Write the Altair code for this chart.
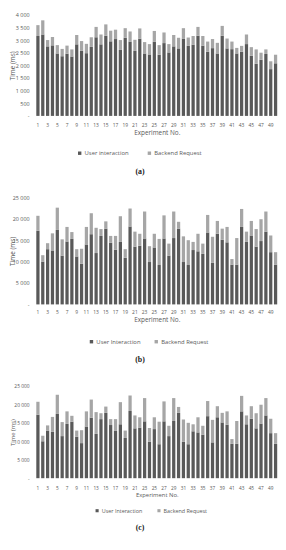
import altair as alt
import pandas as pd

experiments = list(range(1, 51))
names_a = ["User interaction", "Backend Request"]
names_bc = ["User Interaction", "Backend Request"]

user_a = [3160, 3220, 2750, 2790, 2470, 2360, 2460, 2350, 2830, 2580,
          2480, 2730, 3110, 2830, 3170, 2950, 3040, 2610, 3090, 2940,
          2570, 3050, 2470, 2430, 2930, 2420, 2880, 2510, 2750, 2670,
          3060, 2770, 2820, 3170, 2780, 2540, 2680, 2470, 3170, 2670,
          2640, 2470, 2540, 2840, 2380, 2060, 2220, 2450, 1850, 2080]
backend_a = [430, 560, 250, 330, 330, 290, 320, 280, 370, 380,
             370, 380, 410, 390, 450, 420, 370, 390, 380, 400,
             440, 410, 450, 410, 430, 380, 420, 330, 450, 420,
             410, 330, 340, 350, 380, 400, 360, 420, 390, 390,
             300, 220, 230, 380, 340, 570, 280, 180, 310, 340]

user_bc = [17200, 10000, 12900, 12600, 17400, 11400, 14700, 15300, 11200, 9500,
           14000, 16400, 12000, 16000, 17700, 14400, 12800, 14600, 10900, 18200,
           13500, 13700, 15400, 9900, 13300, 9200, 15400, 11400, 15500, 17700,
           9900, 9200, 12700, 12400, 11800, 16800, 9700, 16500, 15100, 14500,
           9300, 9300, 18100, 14600, 16100, 13500, 14800, 17000, 12200, 9300]
backend_bc = [3500, 1500, 1400, 4000, 5200, 3800, 3400, 1600, 1700, 3500,
              4100, 4900, 5900, 1600, 1700, 1600, 3200, 6000, 2000, 4200,
              3500, 2800, 6300, 3700, 3200, 6100, 5400, 2800, 6200, 1600,
              6000, 5800, 1900, 4100, 2400, 4100, 6100, 3000, 2600, 3600,
              1300, 6200, 4200, 2400, 3400, 4100, 5100, 4700, 3900, 2900]

colors = ["#595959", "#a6a6a6"]
txt = "#595959"
font = "Open Sans"


def panel(user, backend, names, ymax, ystep, height, letter, s):
    rows = []
    for i, e in enumerate(experiments):
        rows.append({"exp": e, "series": names[0], "value": user[i], "k": 0})
        rows.append({"exp": e, "series": names[1], "value": backend[i], "k": 1})
    df = pd.DataFrame(rows)
    return alt.Chart(df).mark_bar().encode(
        x=alt.X("exp:O", title="Experiment No.",
                scale=alt.Scale(paddingInner=0.33, paddingOuter=0.165),
                axis=alt.Axis(values=list(range(1, 51, 2)), labelAngle=0, ticks=False,
                              domain=False, labelPadding=s["xlp"], labelFontSize=s["xl"],
                              titleFontSize=s["xt"], titlePadding=s["xtp"],
                              labelColor=txt, titleColor=txt, titleFontWeight="normal",
                              labelFont=font, titleFont=font)),
        y=alt.Y("value:Q", stack="zero", title="Time (ms)",
                scale=alt.Scale(domain=[0, ymax], nice=False),
                axis=alt.Axis(values=list(range(0, ymax + 1, ystep)),
                              labelExpr="datum.value == 0 ? '-' : replace(format(datum.value, ','), ',', ' ')",
                              grid=False, domain=False, ticks=False, labelPadding=6.5,
                              labelFontSize=s["yl"], titleFontSize=s["yt"], titlePadding=1,
                              minExtent=19, maxExtent=19,
                              labelColor=txt, titleColor=txt, titleFontWeight="normal",
                              labelFont=font, titleFont=font)),
        color=alt.Color("series:N", scale=alt.Scale(domain=names, range=colors),
                        legend=alt.Legend(title=None, orient="none", legendX=s["lx"],
                                          legendY=s["ly"], direction="horizontal",
                                          symbolType="square", symbolSize=s["ss"],
                                          labelFontSize=s["lf"], labelFont=font,
                                          labelColor=txt, columnPadding=s["cp"],
                                          symbolStrokeWidth=0, labelOffset=2)),
        order=alt.Order("k:Q", sort="ascending"),
    ).properties(
        width=247, height=height,
        title=alt.TitleParams(letter, orient="bottom", font="Liberation Serif",
                              fontWeight="bold", fontSize=s["tf"], color="#222222",
                              offset=s["to"], dx=-17)
    )


sa = dict(xlp=7, xl=5, xt=6.5, xtp=2, yl=5.5, yt=6.5, lx=42, ly=138, ss=12, lf=6, cp=18, tf=8, to=12)
sb = dict(xlp=5.5, xl=5, xt=6.5, xtp=2, yl=5.5, yt=6.5, lx=54, ly=144, ss=12, lf=6, cp=12, tf=8, to=12)
sc = dict(xlp=8, xl=4.8, xt=6, xtp=1, yl=5, yt=6, lx=60, ly=124, ss=10, lf=5.5, cp=14, tf=8, to=10)

pa = panel(user_a, backend_a, names_a, 4000, 500, 103, "(a)", sa)
pb = panel(user_bc, backend_bc, names_bc, 25000, 5000, 109, "(b)", sb)
pc = panel(user_bc, backend_bc, names_bc, 25000, 5000, 94, "(c)", sc)

chart = alt.vconcat(pa, pb, pc, spacing=20).resolve_scale(
    color="independent", x="independent", y="independent"
).resolve_legend(color="independent").configure_view(stroke=None).properties(
    padding={"left": 2, "top": 0, "right": 0, "bottom": 0}, background="white"
)

chart.save("out.html", embed_options={"renderer": "svg", "actions": False})
